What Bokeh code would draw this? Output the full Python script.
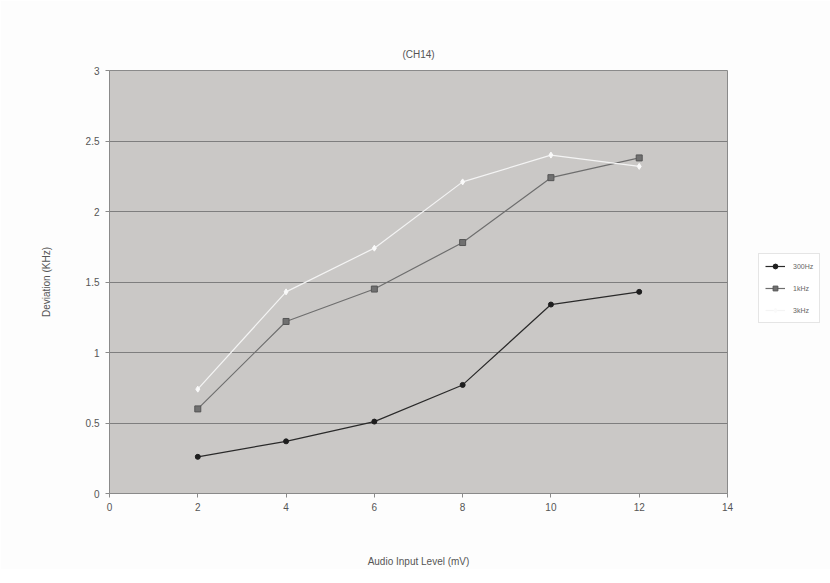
from bokeh.plotting import figure
from bokeh.models import Legend, LegendItem, FixedTicker, Range1d
from bokeh.embed import file_html
from bokeh.resources import INLINE

# Data
x_levels = [2, 4, 6, 8, 10, 12]
dev_300hz = [0.26, 0.37, 0.51, 0.77, 1.34, 1.43]
dev_1khz = [0.60, 1.22, 1.45, 1.78, 2.24, 2.38]
dev_3khz = [0.74, 1.43, 1.74, 2.21, 2.40, 2.32]
series_names = ["300Hz", "1kHz", "3kHz"]
x_ticks = [0, 2, 4, 6, 8, 10, 12, 14]
y_ticks = [0, 0.5, 1, 1.5, 2, 2.5, 3]
y_tick_labels = ["0", "0.5", "1", "1.5", "2", "2.5", "3"]

W, H = 822, 567
FL, FR, FT, FB = 109, 727, 70, 493
p = figure(frame_width=FR - FL, frame_height=FB - FT,
           output_backend="svg", toolbar_location=None,
           x_range=Range1d(0, 14), y_range=Range1d(0, 3),
           min_border_left=FL, min_border_right=W - FR,
           min_border_top=FT, min_border_bottom=H - FB,
           title="(CH14)")

p.background_fill_color = "#cac8c6"
p.border_fill_color = "#fdfdfd"
p.outline_line_color = "#8a8a8a"
p.outline_line_width = 1

p.title.align = "center"
p.title.text_font = "Liberation Sans"
p.title.text_font_size = "10px"
p.title.text_font_style = "normal"
p.title.text_color = "#555555"
p.title.offset = 0
p.title.standoff = 22

# Grid
p.xgrid.grid_line_color = None
p.ygrid.grid_line_color = "#7e7e7e"
p.ygrid.grid_line_width = 1
p.ygrid.ticker = FixedTicker(ticks=y_ticks)

# Axes
p.xaxis.ticker = FixedTicker(ticks=x_ticks)
p.yaxis.ticker = FixedTicker(ticks=y_ticks)
p.yaxis.major_label_overrides = {t: lbl for t, lbl in zip(y_ticks, y_tick_labels)}
for ax in (p.xaxis[0], p.yaxis[0]):
    ax.axis_line_color = "#8a8a8a"
    ax.major_tick_line_color = "#8a8a8a"
    ax.major_tick_out = 4
    ax.major_tick_in = 0
    ax.minor_tick_line_color = None
    ax.major_label_text_font = "Liberation Sans"
    ax.major_label_text_font_size = "10px"
    ax.major_label_text_color = "#555555"
    ax.axis_label_text_font = "Liberation Sans"
    ax.axis_label_text_font_size = "10px"
    ax.axis_label_text_font_style = "normal"
    ax.axis_label_text_color = "#555555"

p.xaxis.axis_label = "Audio Input Level (mV)"
p.xaxis.major_label_standoff = 5
p.xaxis.axis_label_standoff = 42
p.yaxis.axis_label = "Deviation (KHz)"
p.yaxis.major_label_standoff = 6
p.yaxis.axis_label_standoff = 31

# Series
l1 = p.line(x_levels, dev_300hz, line_color="#2a2a2a", line_width=1.2)
m1 = p.scatter(x_levels, dev_300hz, marker="circle", size=5,
               fill_color="#1e1e1e", line_color="#1e1e1e")
l2 = p.line(x_levels, dev_1khz, line_color="#6e6e6e", line_width=1.2)
m2 = p.scatter(x_levels, dev_1khz, marker="square", size=6,
               fill_color="#707070", line_color="#555555")
l3 = p.line(x_levels, dev_3khz, line_color="#f4f4f4", line_width=1.2)
m3 = p.scatter(x_levels, dev_3khz, marker="diamond", size=6,
               fill_color="#fafafa", line_color="#fafafa")

legend = Legend(items=[
    LegendItem(label=series_names[0], renderers=[l1, m1]),
    LegendItem(label=series_names[1], renderers=[l2, m2]),
    LegendItem(label=series_names[2], renderers=[l3, m3]),
], location=(31, 170))
legend.margin = 0
legend.label_text_font = "Liberation Sans"
legend.label_text_font_size = "7px"
legend.label_text_color = "#666666"
legend.glyph_width = 20
legend.glyph_height = 12
legend.spacing = 10
legend.padding = 6
legend.label_standoff = 8
legend.border_line_color = "#cccccc"
legend.background_fill_color = "#ffffff"
legend.background_fill_alpha = 1
p.add_layout(legend, "right")

open("out.html", "w").write(file_html(p, INLINE))
